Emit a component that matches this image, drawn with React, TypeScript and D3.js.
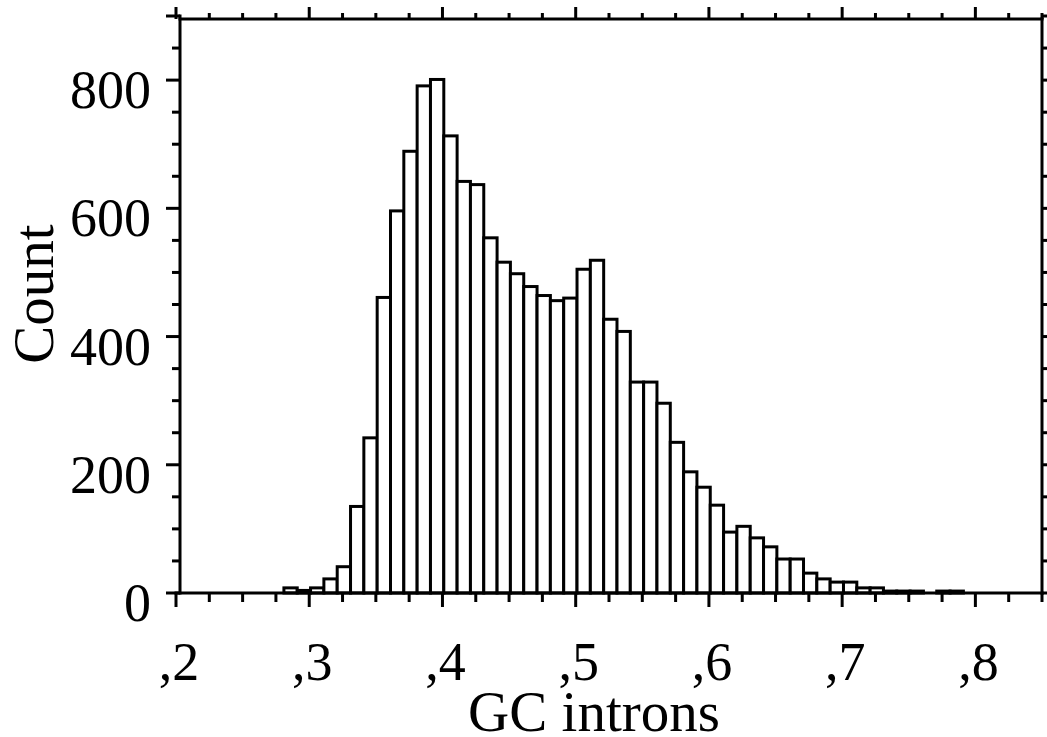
import React from "react";
import * as d3 from "d3";

// ---- data ----
const binStart = 0.281; // left edge of the first bin
const binWidth = 0.01;
const counts = [
  8, 4, 8, 22, 41, 135, 242, 461, 596, 689, 791, 801, 713, 642, 637, 554, 516,
  498, 478, 464, 456, 460, 505, 519, 427, 408, 329, 329, 296, 235, 189, 165, 137,
  95, 104, 86, 72, 53, 53, 31, 22, 17, 17, 8, 8, 3, 3, 3, 0, 3, 3,
];
const xMajorTicks = [0.2, 0.3, 0.4, 0.5, 0.6, 0.7, 0.8];
const xTickLabels = [",2", ",3", ",4", ",5", ",6", ",7", ",8"];
const yMajorTicks = [0, 200, 400, 600, 800];
const yTickLabels = ["0", "200", "400", "600", "800"];
const xTitle = "GC introns";
const yTitle = "Count";

const W = 1047;
const H = 737;
const FONT = "'Liberation Serif', 'Times New Roman', serif";
const FS = 54;
const TFS = 57;

export default function App() {
  const x = d3.scaleLinear().domain([0.2, 0.85]).range([176, 1042]);
  const y = d3.scaleLinear().domain([0, 900]).range([593, 16]);

  const xMinor = d3.range(0, 27).map((i) => 0.2 + i * 0.025);
  const yMinor = d3.range(0, 19).map((i) => i * 50);

  const left = 180;
  const right = x(0.85);
  const top = 19;
  const base = y(0);
  const sw = 3;

  const isMajorX = (v: number) => Math.abs(v * 10 - Math.round(v * 10)) < 1e-6;
  const isMajorY = (v: number) => v % 200 === 0 || v === 900;

  return (
    <svg
      width={W}
      height={H}
      style={{ position: "absolute", left: 0, top: 0, background: "#fff" }}
      fontFamily={FONT}
    >
      <rect x={0} y={0} width={W} height={H} fill="#fff" />
      {/* bars */}
      <g>
        {counts.map((c, i) => {
          const x0 = x(binStart + i * binWidth);
          const x1 = x(binStart + (i + 1) * binWidth);
          if (c <= 0) return null;
          return (
            <rect
              key={i}
              x={x0}
              y={y(c)}
              width={x1 - x0}
              height={base - y(c)}
              fill="#fff"
              stroke="#000"
              strokeWidth={sw}
            />
          );
        })}
      </g>
      {/* frame lines */}
      <g stroke="#000" strokeWidth={sw} fill="none" strokeLinecap="square">
        <line x1={x(0.2)} x2={right} y1={base} y2={base} />
        <line x1={left} x2={right} y1={top} y2={top} />
        <line x1={left} x2={left} y1={y(900)} y2={base} />
        <line x1={right} x2={right} y1={top} y2={base} />
      </g>
      {/* x ticks bottom & top */}
      <g stroke="#000" strokeWidth={sw}>
        {xMinor.map((v, i) => {
          const major = isMajorX(v);
          return (
            <g key={i}>
              <line x1={x(v)} x2={x(v)} y1={base} y2={base + (major ? 14 : 9)} />
              <line x1={x(v)} x2={x(v)} y1={top} y2={top - (major ? 12 : 6)} />
            </g>
          );
        })}
      </g>
      {/* y ticks left & right */}
      <g stroke="#000" strokeWidth={sw}>
        {yMinor.map((v, i) => {
          const major = isMajorY(v);
          return (
            <g key={i}>
              <line x1={left} x2={left - (major ? 14 : 8)} y1={y(v)} y2={y(v)} />
              <line x1={right} x2={right + 6} y1={y(v)} y2={y(v)} />
            </g>
          );
        })}
      </g>
      {/* x labels */}
      <g fontSize={FS} textAnchor="middle" fill="#000">
        {xMajorTicks.map((v, i) => (
          <text key={i} x={x(v) + 3} y={680}>
            {xTickLabels[i]}
          </text>
        ))}
      </g>
      {/* y labels */}
      <g fontSize={FS} textAnchor="end" fill="#000">
        {yMajorTicks.map((v, i) => (
          <text key={i} x={151} y={y(v) + 28}>
            {yTickLabels[i]}
          </text>
        ))}
      </g>
      <text x={594} y={731} fontSize={TFS} textAnchor="middle" fill="#000">
        {xTitle}
      </text>
      <text
        transform={`translate(53,294) rotate(-90)`}
        fontSize={TFS}
        textAnchor="middle"
        fill="#000"
      >
        {yTitle}
      </text>
    </svg>
  );
}
